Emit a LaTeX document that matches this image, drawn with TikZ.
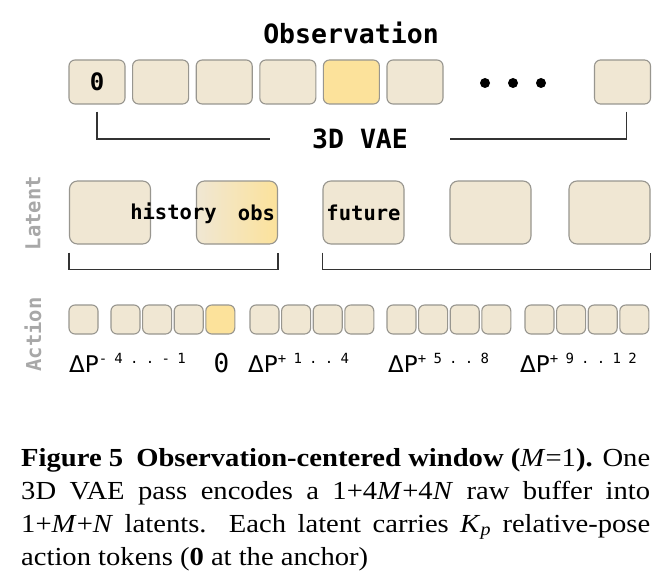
\documentclass[tikz,border=0pt]{standalone}
\usepackage{fontspec}
\setmainfont[FakeStretch=1.1]{Liberation Serif}
\newfontfamily\monofont{DejaVu Sans Mono}
\newfontfamily\supfont[LetterSpace=52]{DejaVu Sans Mono}
\newfontfamily\deltafont{DejaVu Sans}
\usepackage{tikz}
\usetikzlibrary{calc}
\usetikzlibrary{positioning}

\definecolor{tokbeige}{RGB}{240,231,211}
\definecolor{tokyellow}{RGB}{252,226,155}
\definecolor{tokborder}{RGB}{152,150,143}
\definecolor{brkgray}{RGB}{51,51,51}
\definecolor{sidegray}{RGB}{168,168,168}

\newcommand{\dpose}[1]{{\deltafont\fontsize{23}{23}\selectfont ΔP}\raisebox{9pt}{\supfont\fontsize{14}{14}\selectfont #1}}

\tikzset{
    obsbox/.style={draw=tokborder, fill=tokbeige, line width=1.1pt, rounded corners=6pt,
        minimum width=56pt, minimum height=44pt, inner sep=0pt},
    latbox/.style={obsbox, rounded corners=8pt, minimum width=81pt, minimum height=63pt},
    actbox/.style={obsbox, rounded corners=6pt, minimum width=29pt, minimum height=29pt},
    title/.style={font=\monofont\bfseries\fontsize{26.5}{26.5}\selectfont, inner sep=0pt},
    lattext/.style={font=\monofont\bfseries\fontsize{20.5}{20.5}\selectfont, inner sep=0pt},
    sidelbl/.style={font=\monofont\bfseries\fontsize{20.5}{20.5}\selectfont, text=sidegray, rotate=90, inner sep=0pt},
    brk/.style={draw=brkgray, line width=1.8pt},
    caption/.style={anchor=base west, inner sep=0pt, font=\fontsize{26}{32}\selectfont}
}

\begin{document}
\begin{tikzpicture}[x=1pt, y=-1pt]
    \fill[white] (0,0) rectangle (671,580);
    \useasboundingbox (0,0) rectangle (671,580);

    % observation frames
    \node[title] (obstitle) at (351,33) {Observation};
    \node[obsbox, font=\monofont\bfseries\fontsize{24}{24}\selectfont] (o1) at (97,82) {0};
    \foreach \i/\c in {2/tokbeige,3/tokbeige,4/tokbeige,5/tokyellow,6/tokbeige}
        \node[obsbox, fill=\c] (o\i) at ({97+63.6*(\i-1)},82) {};
    \node[obsbox] (o7) at (622.5,82) {};
    \foreach \x in {485,513,541}
        \fill (\x,83) circle (5pt);

    \node[title, minimum width=180pt] (vae) at (360,139) {3D VAE};
    \draw[brk] ([yshift=-7pt]o1.south) |- (vae.west);
    \draw[brk] ([yshift=-7pt,xshift=4pt]o7.south) |- (vae.east);

    % latents
    \node[sidelbl] (latlab) at (33,213) {Latent};
    \node[latbox] (l1) at (110,212.5) {};
    \node[latbox, left color=tokbeige, right color=tokyellow] (l2) at (237,212.5) {};
    \foreach \i/\x in {3/363.5,4/490.5,5/609.5}
        \node[latbox] (l\i) at (\x,212.5) {};
    \node[lattext] (hist) at (173.5,213) {history};
    \node[lattext] (obs) at (256.5,213) {obs};
    \node[lattext] (fut) at (l3) {future};

    \draw[brk] ([yshift=-8pt]l1.south west) -- ([yshift=-25pt]l1.south west)
        -- ([yshift=-25pt]l2.south east) -- ([yshift=-8pt]l2.south east);
    \draw[brk] ([yshift=-8pt]l3.south west) -- ([yshift=-25pt]l3.south west)
        -- ([yshift=-25pt]l5.south east) -- ([yshift=-8pt]l5.south east);

    % action tokens
    \node[sidelbl] (actlab) at (33,334.5) {Action};
    \node[actbox] (a0) at (83.5,319.5) {};
    \foreach \k in {1,2,3}
        \node[actbox] (a1-\k) at ({125.5+31.6*(\k-1)},319.5) {};
    \node[actbox, fill=tokyellow] (a1-4) at (220.3,319.5) {};
    \foreach \g/\x in {2/264.5,3/401.5,4/539.5}
        \foreach \k in {1,...,4}
            \node[actbox] (a\g-\k) at ({\x+31.6*(\k-1)},319.5) {};

    \node[anchor=base west, inner sep=0pt] (d1) at (69,372) {\dpose{-4..-1}};
    \node[anchor=base, inner sep=0pt, font=\monofont\fontsize{26}{26}\selectfont] (d0) at (221.5,372) {0};
    \node[anchor=base west, inner sep=0pt] (d2) at (248,372) {\dpose{+1..4}};
    \node[anchor=base west, inner sep=0pt] (d3) at (388,372) {\dpose{+5..8}};
    \node[anchor=base west, inner sep=0pt] (d4) at (520,372) {\dpose{+9..12}};

    % caption
    \node[caption] (cap1) at (21,466) {\makebox[629pt][s]{\textbf{Figure 5\enspace Observation-centered window} \textbf{(}\textit{M}=1\textbf{).} One}};
    \node[caption] (cap2) at (21,499) {\makebox[629pt][s]{3D VAE pass encodes a 1+4\textit{M}+4\textit{N} raw buffer into}};
    \node[caption] (cap3) at (21,532) {\makebox[629pt][s]{1+\textit{M}+\textit{N} latents. Each latent carries \textit{K}\textsubscript{\textit{p}} relative-pose}};
    \node[caption] (cap4) at (21,565) {action tokens (\textbf{0} at the anchor)};
\end{tikzpicture}
\end{document}
